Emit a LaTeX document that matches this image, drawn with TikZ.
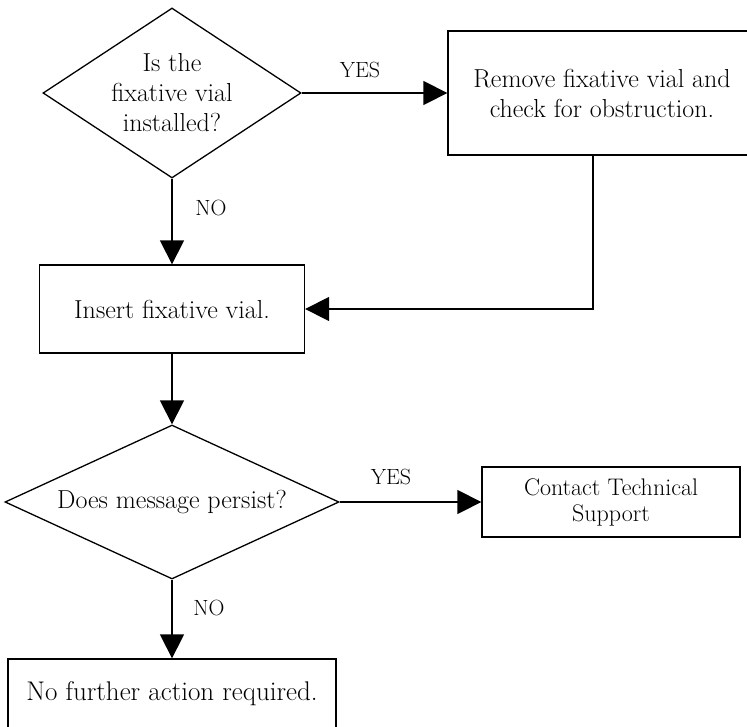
\documentclass[tikz,border=0pt]{standalone}
\usepackage{fontspec}
\usetikzlibrary{shapes.geometric}
\usetikzlibrary{arrows.meta}
\usetikzlibrary{positioning}

\begin{document}
\begin{tikzpicture}[x=1pt,y=-1pt,
  txt/.style={font=\fontsize{26}{30}\selectfont,align=center},
  decision/.style={txt,diamond,draw,line width=1.3pt,inner sep=0pt},
  action/.style={txt,rectangle,draw,line width=1.3pt,inner sep=0pt},
  flow/.style={line width=1.3pt,-{Triangle[length=24pt,width=24pt]}},
  lbl/.style={font=\fontsize{22}{24}\selectfont}]
\useasboundingbox (0,0) rectangle (747,726);
\clip (0,0) rectangle (747,726);

% first question
\node[decision,aspect=1.52,minimum width=258pt,minimum height=170pt] (Installed) at (172,93) {Is the\\fixative vial\\installed?};
\node[action,minimum width=308pt,minimum height=124pt] (Remove) at (602,93) {Remove fixative vial and\\check for obstruction.};
\node[action,minimum width=265pt,minimum height=88pt] (Insert) at (172,309) {Insert fixative vial.};

% second question
\node[decision,aspect=2.17,minimum width=334pt,minimum height=154pt] (Persist) at (172,502) {Does message persist?};
\node[action,minimum width=258pt,minimum height=70pt,font=\fontsize{24}{28}\selectfont] (Support) at (611,502) {Contact Technical\\[-2pt]Support};
\node[action,minimum width=328pt,minimum height=70pt,font=\fontsize{27}{30}\selectfont] (Done) at (172,694) {No further action required.};

\draw[flow] (Installed.east) -- (Remove.west);
\node[lbl] (yesA) at (360,70) {YES};
\draw[flow] (Installed.south) -- (Insert.north);
\node[lbl] (noA) at (211,208) {NO};
\draw[flow] ([xshift=-9pt]Remove.south) |- (Insert.east);
\draw[flow] (Insert.south) -- (Persist.north);

\draw[flow] (Persist.east) -- (Support.west);
\node[lbl] (yesB) at (391,477) {YES};
\draw[flow] (Persist.south) -- (Done.north);
\node[lbl] (noB) at (209,608) {NO};

\end{tikzpicture}
\end{document}
